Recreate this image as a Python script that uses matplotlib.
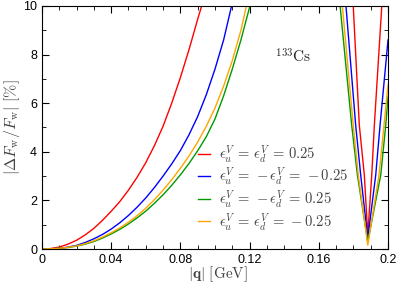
import matplotlib
matplotlib.use("Agg")
import matplotlib.pyplot as plt
from matplotlib.ticker import MultipleLocator

plt.rcParams['mathtext.fontset'] = 'cm'
plt.rcParams['font.family'] = ['Liberation Sans', 'DejaVu Sans']

# low |q| branch, every 0.005 GeV
q_left = [0, 0.005, 0.01, 0.015, 0.02, 0.025, 0.03, 0.035, 0.04, 0.045, 0.05,
          0.055, 0.06, 0.065, 0.07, 0.075, 0.08, 0.085, 0.09, 0.095, 0.1,
          0.105, 0.11, 0.115]
dF_left_red = [0, 0.02, 0.08, 0.2, 0.36, 0.58, 0.85, 1.18, 1.55, 1.95, 2.42,
               2.95, 3.55, 4.25, 5.05, 6.0, 7.05, 8.2, 9.45]
dF_left_blue = [0, 0.01, 0.03, 0.08, 0.15, 0.27, 0.42, 0.6, 0.82, 1.08, 1.38,
                1.72, 2.1, 2.53, 3.0, 3.5, 4.05, 4.7, 5.45, 6.35, 7.4, 8.6]
dF_left_green = [0, 0.01, 0.03, 0.06, 0.12, 0.2, 0.31, 0.45, 0.62, 0.81, 1.03,
                 1.28, 1.56, 1.88, 2.23, 2.62, 3.05, 3.52, 4.04, 4.62, 5.35,
                 6.3, 7.4, 8.6]
dF_left_orange = [0, 0.01, 0.03, 0.07, 0.13, 0.22, 0.34, 0.49, 0.67, 0.87, 1.1,
                  1.37, 1.68, 2.03, 2.42, 2.85, 3.32, 3.83, 4.4, 5.05, 5.8,
                  6.7, 7.75, 9.0]
# where each curve leaves the top of the frame
q_top = [0.0923, 0.1096, 0.1202, 0.1182]

# dip near the form-factor zero
q_dip_red = [0.1799, 0.1834, 0.1863, 0.1883, 0.1906, 0.1921, 0.1964]
dF_dip_red = [10.0, 5.1, 3.05, 0.58, 3.05, 5.1, 10.0]
q_dip_blue = [0.1757, 0.1813, 0.1842, 0.1883, 0.1929, 0.1954, 0.2]
dF_dip_blue = [10.0, 5.1, 3.05, 0.45, 3.05, 5.1, 8.6]
q_dip_green = [0.1723, 0.1790, 0.1823, 0.1883, 0.1958, 0.1987, 0.2]
dF_dip_green = [10.0, 5.1, 3.05, 0.3, 3.05, 5.1, 6.27]
q_dip_orange = [0.1736, 0.1799, 0.1828, 0.1883, 0.1948, 0.1977, 0.2]
dF_dip_orange = [10.0, 5.1, 3.05, 0.16, 3.05, 5.1, 6.75]

labels = [r'$\epsilon_u^V\,=\,\epsilon_d^V\,=\,0.25$',
          r'$\epsilon_u^V\,=\,-\epsilon_d^V\,=\,-0.25$',
          r'$\epsilon_u^V\,=\,-\epsilon_d^V\,=\,0.25$',
          r'$\epsilon_u^V\,=\,\epsilon_d^V\,=\,-0.25$']
colors = ['#ff0000', '#0000ff', '#009900', '#ffa500']

fig = plt.figure(figsize=(3.99, 2.83), dpi=100)
ax = fig.add_axes([0.105, 0.12, 0.8675, 0.859])

lefts = [dF_left_red, dF_left_blue, dF_left_green, dF_left_orange]
dips = [(q_dip_red, dF_dip_red), (q_dip_blue, dF_dip_blue),
        (q_dip_green, dF_dip_green), (q_dip_orange, dF_dip_orange)]
for fl, qt, (qd, fd), c, lab in zip(lefts, q_top, dips, colors, labels):
    ax.plot(q_left[:len(fl)] + [qt], fl + [10.0], color=c, lw=1.0, label=lab)
    ax.plot(qd, fd, color=c, lw=1.0)

ax.set_xlim(0, 0.2)
ax.set_ylim(0, 10)
ax.xaxis.set_minor_locator(MultipleLocator(0.01))
ax.yaxis.set_major_locator(MultipleLocator(2))
ax.yaxis.set_minor_locator(MultipleLocator(1))
ax.set_xticks([0, 0.04, 0.08, 0.12, 0.16, 0.2])
ax.set_xticklabels(['0', '0.04', '0.08', '0.12', '0.16', '0.2'])
ax.tick_params(which='both', direction='in', top=True, right=True, labelsize=9)
ax.tick_params(which='major', length=5)
ax.tick_params(which='minor', length=3)

ax.set_xlabel(r'$|\mathbf{q}|\ [\mathrm{GeV}]$', fontsize=11, color='#444444', va='center')
ax.set_ylabel(r'$\left|\Delta F_{\rm w}/F_{\rm w}\right|\ [\%]$', fontsize=11.5,
              color='#444444', va='center')
ax.xaxis.set_label_coords(0.51, -0.103)
ax.yaxis.set_label_coords(-0.085, 0.5)

ax.text(0.1451, 7.9, r'$^{133}\mathrm{Cs}$', fontsize=11, ha='center', va='center', color='#222222')

leg = ax.legend(loc='lower left', bbox_to_anchor=(0.418, 0.02), frameon=False,
                fontsize=10.5, handlelength=0.8, handletextpad=0.6,
                labelspacing=0.05, borderpad=0.3)
for t in leg.get_texts():
    t.set_color('#444444')

fig.savefig('out.png', dpi=100)
